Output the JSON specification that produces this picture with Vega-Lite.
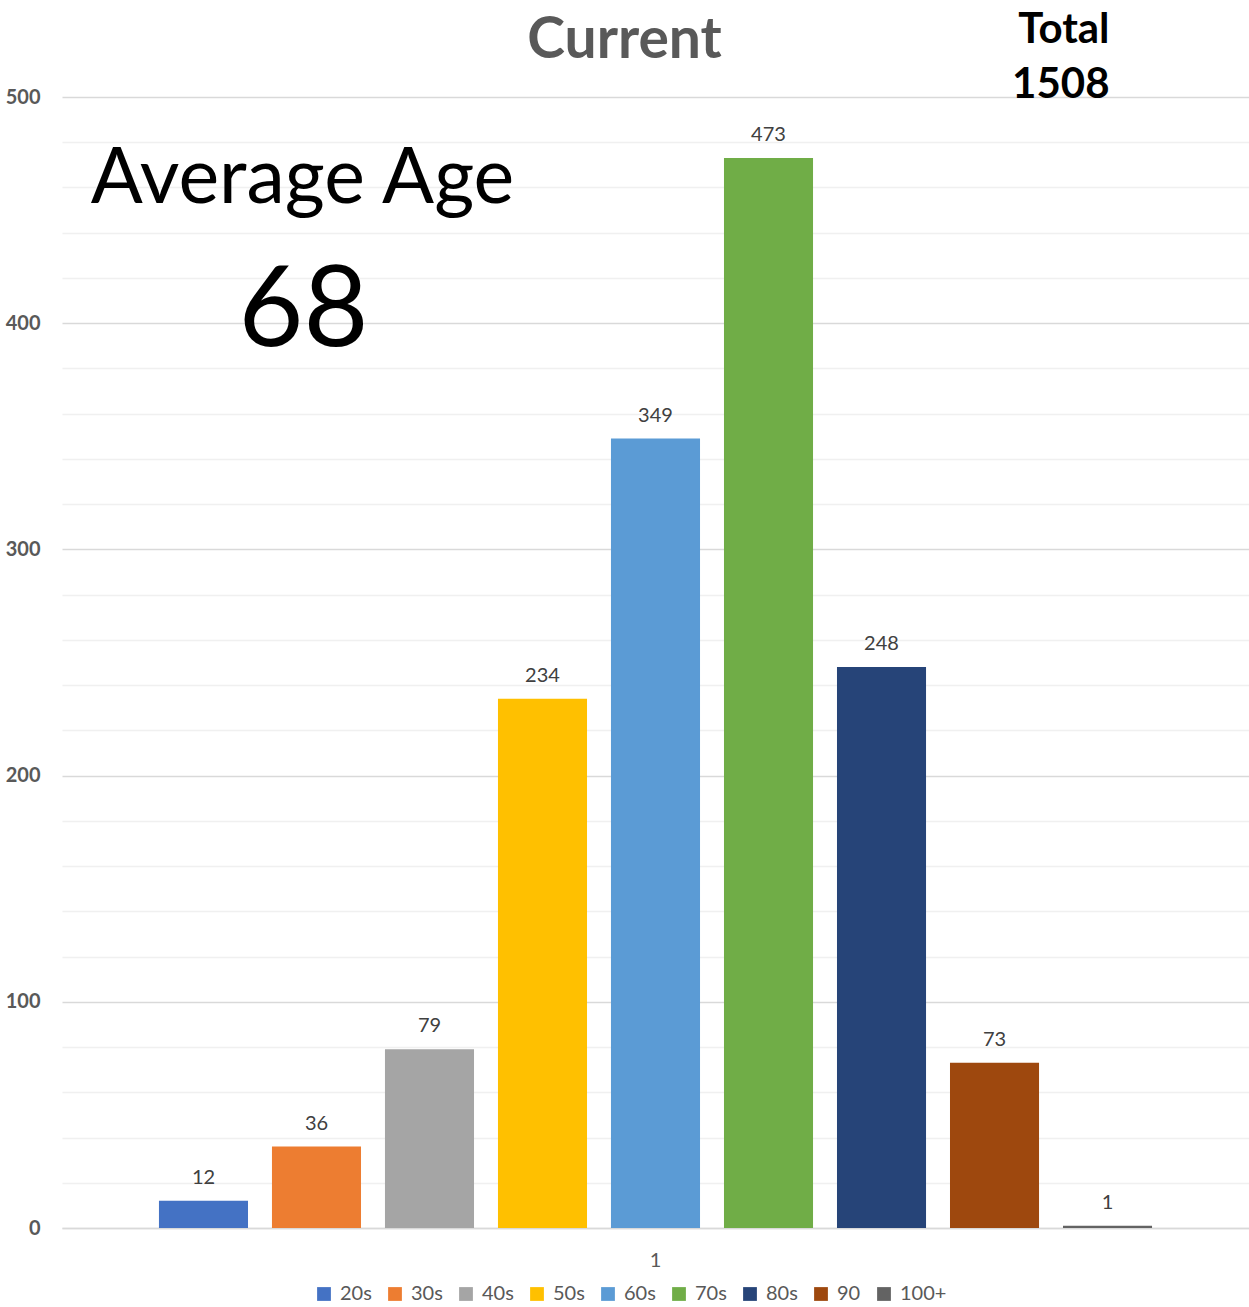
{
  "$schema": "https://vega.github.io/schema/vega-lite/v6.json",
  "autosize": {"type": "none"},
  "padding": {"left": 62, "top": 97, "right": 0, "bottom": 79},
  "width": 1187,
  "height": 1131,
  "background": "white",
  "config": {"view": {"stroke": null}, "font": "Lato"},
  "data": {"values": [
    {"cat": "1", "age": "20s", "count": 12},
    {"cat": "1", "age": "30s", "count": 36},
    {"cat": "1", "age": "40s", "count": 79},
    {"cat": "1", "age": "50s", "count": 234},
    {"cat": "1", "age": "60s", "count": 349},
    {"cat": "1", "age": "70s", "count": 473},
    {"cat": "1", "age": "80s", "count": 248},
    {"cat": "1", "age": "90", "count": 73},
    {"cat": "1", "age": "100+", "count": 1}
  ]},
  "layer": [
    {
      "mark": {"type": "bar"},
      "encoding": {
        "x": {"field": "cat", "type": "nominal", "scale": {"paddingInner": 0, "paddingOuter": 0},
          "axis": {"title": null, "labelAngle": 0, "ticks": false, "domain": true, "domainColor": "#d9d9d9", "domainWidth": 1.5, "labelFontSize": 20, "labelColor": "#595959", "labelFont": "Lato", "labelPadding": 22}},
        "xOffset": {"field": "age", "type": "nominal", "sort": ["20s", "30s", "40s", "50s", "60s", "70s", "80s", "90", "100+"], "scale": {"domain": ["20s", "30s", "40s", "50s", "60s", "70s", "80s", "90", "100+"], "paddingInner": 0.212, "paddingOuter": 0.858}},
        "y": {"field": "count", "type": "quantitative", "scale": {"domain": [0, 500], "nice": false},
          "axis": {"title": null, "values": [0,10,20,30,40,50,60,70,80,90,100,110,120,130,140,150,160,170,180,190,200,210,220,230,240,250,260,270,280,290,300,310,320,330,340,350,360,370,380,390,400,410,420,430,440,450,460,470,480,490,500],
            "labelExpr": "datum.value % 50 === 0 ? datum.label : ''",
            "grid": true,
            "gridColor": {"condition": {"test": "datum.value % 50 === 0", "value": "#d9d9d9"}, "value": "#f0f0f0"},
            "gridWidth": 1.5,
            "ticks": false, "domain": false,
            "labelFontSize": 20, "labelFontWeight": "bold", "labelColor": "#595959", "labelFont": "Lato", "labelPadding": 22}},
        "fill": {"field": "age", "type": "nominal",
          "scale": {"domain": ["20s", "30s", "40s", "50s", "60s", "70s", "80s", "90", "100+"],
            "range": ["#4472C4", "#ED7D31", "#A5A5A5", "#FFC000", "#5B9BD5", "#70AD47", "#264478", "#9E480E", "#636363"]},
          "legend": {"title": null, "orient": "none", "legendX": 252, "legendY": 1187, "padding": 0, "direction": "horizontal", "columns": 9, "symbolType": "square", "symbolSize": 190, "symbolStrokeWidth": 0, "labelFontSize": 20, "labelColor": "#595959", "labelFont": "Lato", "columnPadding": 13, "labelOffset": 6}}
      }
    },
    {
      "mark": {"type": "text", "dy": -17, "baseline": "alphabetic", "fontSize": 20, "color": "#404040", "font": "Lato"},
      "encoding": {
        "x": {"field": "cat", "type": "nominal"},
        "xOffset": {"field": "age", "type": "nominal", "sort": ["20s", "30s", "40s", "50s", "60s", "70s", "80s", "90", "100+"]},
        "y": {"field": "count", "type": "quantitative"},
        "text": {"field": "count", "type": "quantitative"}
      }
    },
    {
      "data": {"values": [{"label": "Current"}]},
      "mark": {"type": "text", "baseline": "alphabetic", "align": "center", "fontSize": 57, "fontWeight": "bold", "color": "#595959", "font": "Lato", "dx": -31},
      "encoding": {
        "x": {"datum": "1", "type": "nominal"},
        "y": {"datum": 517.2, "type": "quantitative"},
        "text": {"field": "label", "type": "nominal"}
      }
    },
    {
      "data": {"values": [{"label": "Average Age"}]},
      "mark": {"type": "text", "baseline": "alphabetic", "align": "center", "fontSize": 77, "color": "#000000", "font": "Lato", "dx": -14},
      "encoding": {
        "x": {"datum": "1", "type": "nominal"},
        "xOffset": {"datum": "30s", "type": "nominal"},
        "y": {"datum": 453, "type": "quantitative"},
        "text": {"field": "label", "type": "nominal"}
      }
    },
    {
      "data": {"values": [{"label": "68"}]},
      "mark": {"type": "text", "baseline": "alphabetic", "align": "center", "fontSize": 112, "color": "#000000", "font": "Lato", "dx": -13},
      "encoding": {
        "x": {"datum": "1", "type": "nominal"},
        "xOffset": {"datum": "30s", "type": "nominal"},
        "y": {"datum": 390, "type": "quantitative"},
        "text": {"field": "label", "type": "nominal"}
      }
    },
    {
      "data": {"values": [{"label": "Total"}]},
      "mark": {"type": "text", "baseline": "alphabetic", "align": "right", "fontSize": 42, "fontWeight": "bold", "color": "#000000", "font": "Lato", "dx": 2},
      "encoding": {
        "x": {"datum": "1", "type": "nominal"},
        "xOffset": {"datum": "100+", "type": "nominal"},
        "y": {"datum": 524, "type": "quantitative"},
        "text": {"field": "label", "type": "nominal"}
      }
    },
    {
      "data": {"values": [{"label": "1508"}]},
      "mark": {"type": "text", "baseline": "alphabetic", "align": "right", "fontSize": 42, "fontWeight": "bold", "color": "#000000", "font": "Lato", "dx": 2},
      "encoding": {
        "x": {"datum": "1", "type": "nominal"},
        "xOffset": {"datum": "100+", "type": "nominal"},
        "y": {"datum": 499.5, "type": "quantitative"},
        "text": {"field": "label", "type": "nominal"}
      }
    }
  ]
}
